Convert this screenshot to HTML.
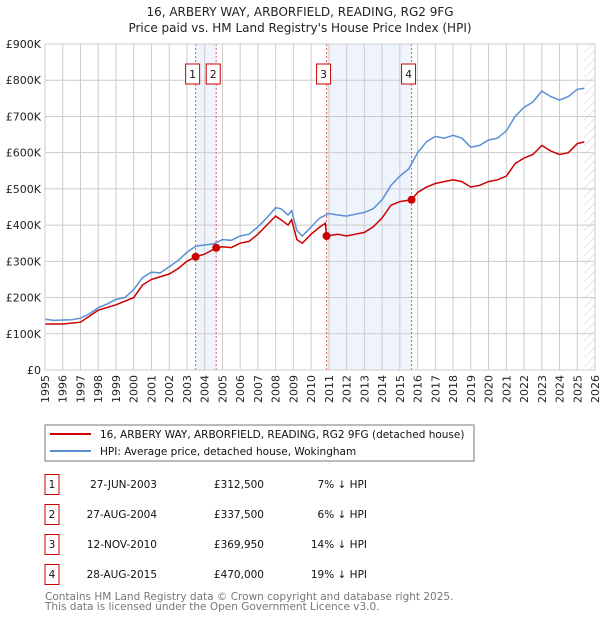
<!DOCTYPE html>
<html><head><meta charset="utf-8"><style>
body{margin:0;background:#fff;font-family:"Liberation Sans","DejaVu Sans",sans-serif;}
svg text{font-family:"DejaVu Sans","Liberation Sans",sans-serif;}
</style></head><body>
<svg width="600" height="620" xmlns="http://www.w3.org/2000/svg" id="chart">
<defs><pattern id="hatch" width="6" height="6" patternUnits="userSpaceOnUse" patternTransform="rotate(45)"><line x1="0" y1="0" x2="0" y2="6" stroke="#ccc" stroke-width="1"/></pattern></defs>
<text x="300" y="16" text-anchor="middle" font-size="12" fill="#222">16, ARBERY WAY, ARBORFIELD, READING, RG2 9FG</text>
<text x="300" y="32" text-anchor="middle" font-size="12" fill="#222">Price paid vs. HM Land Registry's House Price Index (HPI)</text>
<g id="grid"></g><g id="marks"></g><g id="axes"></g>
<rect x="45" y="425" width="429" height="36" fill="#fff" stroke="#777"/>
<line x1="50" y1="434" x2="91" y2="434" stroke="#cc0000" stroke-width="2"/>
<text x="100" y="438" font-size="10.5" fill="#111">16, ARBERY WAY, ARBORFIELD, READING, RG2 9FG (detached house)</text>
<line x1="50" y1="451" x2="91" y2="451" stroke="#5b8fd4" stroke-width="2"/>
<text x="100" y="455" font-size="10.5" fill="#111">HPI: Average price, detached house, Wokingham</text>
<g id="table"></g>
<text x="45" y="600" font-size="10.5" fill="#777">Contains HM Land Registry data © Crown copyright and database right 2025.</text>
<text x="45" y="610" font-size="10.5" fill="#777">This data is licensed under the Open Government Licence v3.0.</text>
</svg>
<script>
const yTicks=[0,100,200,300,400,500,600,700,800,900];
const yLabels=["£0","£100K","£200K","£300K","£400K","£500K","£600K","£700K","£800K","£900K"];
const hpiYears=[1995,1995.5,1996,1996.5,1997,1997.5,1998,1998.5,1999,1999.5,2000,2000.5,2001,2001.5,2002,2002.5,2003,2003.5,2004,2004.5,2005,2005.5,2006,2006.5,2007,2007.5,2008,2008.3,2008.7,2008.9,2009.2,2009.5,2010,2010.5,2011,2011.5,2012,2012.5,2013,2013.5,2014,2014.5,2015,2015.5,2016,2016.5,2017,2017.5,2018,2018.5,2019,2019.5,2020,2020.5,2021,2021.5,2022,2022.5,2023,2023.5,2024,2024.5,2025,2025.4];
const hpiValues=[140,137,138,139,143,155,172,182,195,200,222,255,270,268,285,302,325,342,345,348,360,358,370,375,395,420,448,445,428,440,385,370,395,420,432,428,425,430,435,445,470,510,535,555,600,630,645,640,648,640,615,620,635,640,660,700,725,740,770,755,745,755,775,778];
const priceYears=[1995,1996,1997,1998,1999,2000,2000.5,2001,2002,2002.5,2003,2003.49,2004,2004.65,2005,2005.5,2006,2006.5,2007,2007.5,2008,2008.3,2008.7,2008.9,2009.2,2009.5,2010,2010.5,2010.8,2010.87,2011.5,2012,2012.5,2013,2013.5,2014,2014.5,2015,2015.66,2016,2016.5,2017,2017.5,2018,2018.5,2019,2019.5,2020,2020.5,2021,2021.5,2022,2022.5,2023,2023.5,2024,2024.5,2025,2025.4];
const priceValues=[127,127,132,165,180,200,235,250,265,280,300,312.5,320,337.5,340,338,350,355,375,400,425,415,400,415,360,350,375,395,405,370,375,370,375,380,395,420,455,465,470,490,505,515,520,525,520,505,510,520,525,535,570,585,595,620,605,595,600,625,630];
const saleYears=[2003.49,2004.65,2010.87,2015.66];
const salePrices=[312.5,337.5,369.95,470];
const saleDates=["27-JUN-2003","27-AUG-2004","12-NOV-2010","28-AUG-2015"];
const salePriceLabels=["£312,500","£337,500","£369,950","£470,000"];
const saleDiffs=["7% ↓ HPI","6% ↓ HPI","14% ↓ HPI","19% ↓ HPI"];
const NS="http://www.w3.org/2000/svg";
const X0=45,X1=595,Y0=370,Y1=44;
const xs=y=>X0+(y-1995)*(X1-X0)/31;
const ys=v=>Y0-v*(Y0-Y1)/900;
function mk(t,a,p){const e=document.createElementNS(NS,t);for(const k in a)e.setAttribute(k,a[k]);p.appendChild(e);return e;}
const grid=document.getElementById('grid'),marks=document.getElementById('marks'),axes=document.getElementById('axes'),table=document.getElementById('table');
// shading
for(let i=0;i<4;i+=2){const r=mk('rect',{x:xs(saleYears[i]),y:Y1,width:xs(saleYears[i+1])-xs(saleYears[i]),height:Y0-Y1,fill:'#eef3fc'},grid);

}
const h=mk('rect',{x:xs(2025.4),y:Y1,width:X1-xs(2025.4),height:Y0-Y1,fill:'url(#hatch)'},grid);


for(let yr=1995;yr<=2026;yr++){const l=mk('line',{x1:xs(yr),x2:xs(yr),y1:Y1,y2:Y0,stroke:'#ccc'},grid);


const t=mk('text',{transform:`translate(${xs(yr)+4},${Y0+5}) rotate(-90)`,'text-anchor':'end','font-size':'11',fill:'#222'},axes);t.textContent=yr;

}
yTicks.forEach((v,i)=>{const l=mk('line',{x1:X0,x2:X1,y1:ys(v),y2:ys(v),stroke:'#ccc'},grid);


const t=mk('text',{x:X0-4,y:ys(v)+4,'text-anchor':'end','font-size':'11',fill:'#222'},axes);t.textContent=yLabels[i];

});
saleYears.forEach((y,i)=>{const l=mk('line',{x1:xs(y),x2:xs(y),y1:Y1,y2:Y0,stroke:'#e06060','stroke-dasharray':'2,2'},grid);

});
function path(xa,va,col,name){const d=xa.map((y,i)=>(i?'L':'M')+xs(y).toFixed(1)+','+ys(va[i]).toFixed(1)).join('');
const p=mk('path',{d:d,fill:'none',stroke:col,'stroke-width':1.5},marks);

}
path(hpiYears,hpiValues,'#5b8fd4','hpi-line');
path(priceYears,priceValues,'#cc0000','price-paid-line');
saleYears.forEach((y,i)=>{const c=mk('circle',{cx:xs(y),cy:ys(salePrices[i]),r:4,fill:'#cc0000'},marks);


const b=mk('rect',{x:xs(y)-10,y:64,width:14,height:20,fill:'#fff',stroke:'#cc0000'},marks);


const t=mk('text',{x:xs(y)-3,y:78,'text-anchor':'middle','font-size':'10.5',fill:'#111'},marks);t.textContent=i+1;


// table
const ry=483+30*i;
const tb=mk('rect',{x:45,y:ry-8.5,width:14,height:20,fill:'#fff',stroke:'#cc0000'},table);


const cells=[[52,'middle',i+1],[157,'end',saleDates[i]],[264,'end',salePriceLabels[i]],[367,'end',saleDiffs[i]]];
cells.forEach(c2=>{const tt=mk('text',{x:c2[0],y:ry+5,'text-anchor':c2[1],'font-size':'10.5',fill:'#111'},table);tt.textContent=c2[2];

});});
const ax=mk('rect',{x:X0,y:Y1,width:X1-X0,height:Y0-Y1,fill:'none',stroke:'#ccc'},axes);


</script>
</body></html>
